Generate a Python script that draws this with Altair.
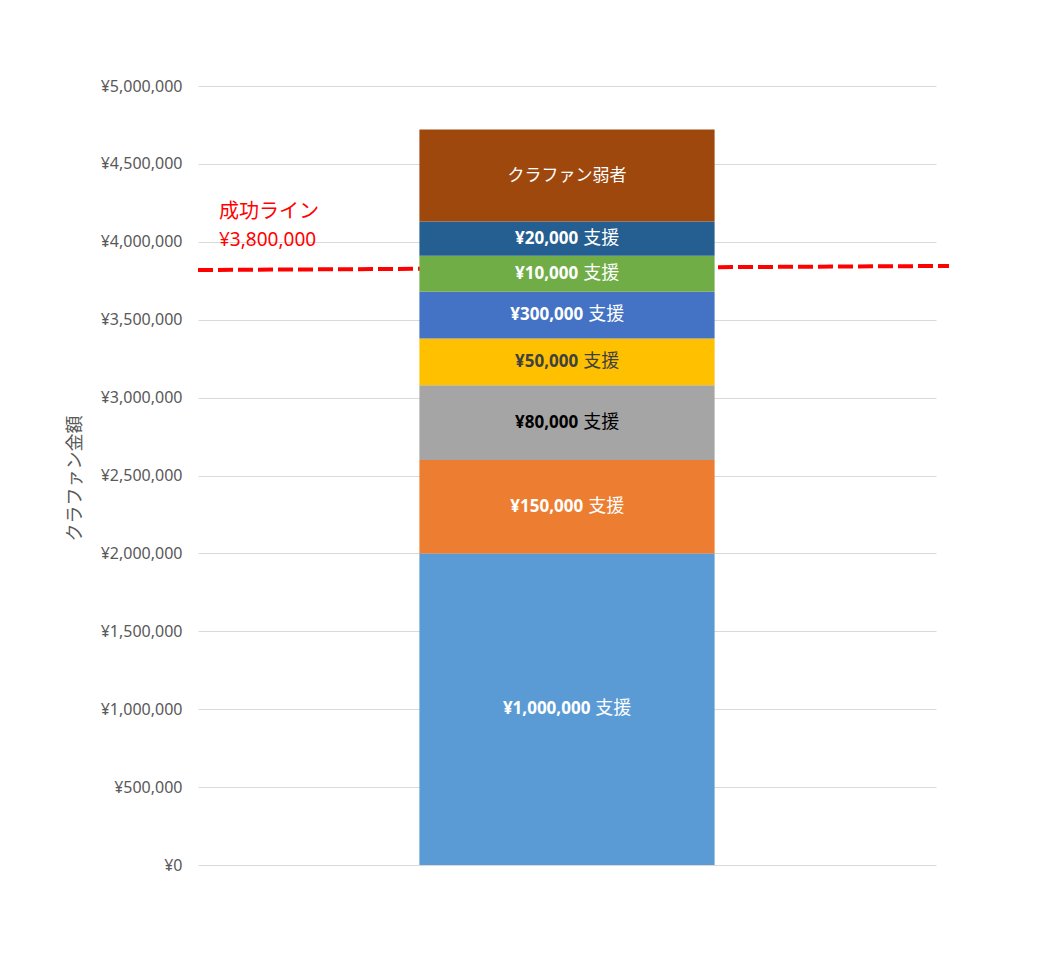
import altair as alt
import pandas as pd

# ---- data ----
segment_names = ["¥1,000,000", "¥150,000", "¥80,000", "¥50,000", "¥300,000", "¥10,000", "¥20,000", "クラファン弱者"]
segment_suffix = ["支援", "支援", "支援", "支援", "支援", "支援", "支援", ""]
segment_values = [2000000, 600000, 480000, 300000, 300000, 230000, 220000, 590000]
segment_colors = ["#5B9BD5", "#ED7D31", "#A5A5A5", "#FFC000", "#4472C4", "#70AD47", "#255E91", "#9E480E"]
label_colors = ["#FFFFFF", "#FFFFFF", "#000000", "#404040", "#FFFFFF", "#FFFFFF", "#FFFFFF", "#FFFFFF"]

line_left_value = 3819000
line_right_value = 3845000
annotation_lines = ["成功ライン", "¥3,800,000"]
y_ticks = list(range(0, 5000001, 500000))

JP = "Noto Sans CJK JP"
LAT = "Noto Sans"
NUM_FS = 17
SUP_FS = 18
GAP = 5


def est_width(s, fs):
    w = 0.0
    for ch in s:
        if ch == ",":
            w += 0.26 * fs
        else:
            w += 0.58 * fs
    return w


rows = []
base = 0
for i, (n, suf, v, c, tc) in enumerate(zip(segment_names, segment_suffix, segment_values, segment_colors, label_colors)):
    rows.append(dict(g="A", idx=i, name=n, suffix=suf, y0=base, y1=base + v, mid=base + v / 2,
                     color=c, tcolor=tc))
    base += v
df = pd.DataFrame(rows)

xscale = alt.Scale(paddingInner=0, paddingOuter=0.75)
xenc = alt.X("g:N", axis=None, scale=xscale)
yscale = alt.Scale(domain=[0, 5000000], nice=False)

line_df = pd.DataFrame({"a": [line_left_value], "b": [line_right_value]})
rule = alt.Chart(line_df).mark_rule(color="#FF0000", strokeWidth=4, strokeDash=[15, 5], strokeCap="butt").encode(
    x=alt.value(0), x2=alt.value(751),
    y=alt.Y("a:Q", scale=yscale), y2="b:Q",
)

bars = alt.Chart(df).mark_bar().encode(
    x=xenc,
    y=alt.Y("y0:Q", scale=yscale,
            axis=alt.Axis(values=y_ticks, labelExpr='"¥" + format(datum.value, ",")',
                          title="クラファン金額", titleFont=JP, titleFontSize=18, titleFontWeight="normal",
                          titleColor="#595959", titleAngle=270, titleX=-123, titleY=392,
                          titleAlign="center", titleBaseline="middle",
                          labelFont=LAT, labelFontSize=16, labelColor="#595959", labelPadding=16,
                          domain=False, ticks=False, grid=True, gridColor="#D9D9D9", gridWidth=1)),
    y2="y1:Q",
    color=alt.Color("color:N", scale=None),
)

layers = [rule, bars]
for i, (n, suf) in enumerate(zip(segment_names, segment_suffix)):
    sel = alt.Chart(df).transform_filter(f"datum.idx == {i}")
    if suf:
        wn = est_width(n, NUM_FS)
        ws = 2 * SUP_FS
        off = (wn - GAP - ws) / 2
        layers.append(sel.mark_text(align="right", baseline="middle", font=LAT, fontSize=NUM_FS,
                                    fontWeight="bold", dx=off).encode(
            x=xenc, y=alt.Y("mid:Q", scale=yscale), text="name:N",
            color=alt.Color("tcolor:N", scale=None)))
        layers.append(sel.mark_text(align="left", baseline="middle", font=JP, fontSize=SUP_FS,
                                    dx=off + GAP).encode(
            x=xenc, y=alt.Y("mid:Q", scale=yscale), text="suffix:N",
            color=alt.Color("tcolor:N", scale=None)))
    else:
        layers.append(sel.mark_text(align="center", baseline="middle", font=JP, fontSize=17).encode(
            x=xenc, y=alt.Y("mid:Q", scale=yscale), text="name:N",
            color=alt.Color("tcolor:N", scale=None)))

ann_df = pd.DataFrame({"t": annotation_lines, "k": [0, 1]})
layers.append(alt.Chart(ann_df).transform_filter("datum.k == 0").mark_text(
    align="left", baseline="alphabetic", font=JP, fontSize=20, color="#FF0000"
).encode(x=alt.value(21), y=alt.value(132), text="t:N"))
layers.append(alt.Chart(ann_df).transform_filter("datum.k == 1").mark_text(
    align="left", baseline="alphabetic", font=LAT, fontSize=19, color="#FF0000"
).encode(x=alt.value(21), y=alt.value(160), text="t:N"))

chart = alt.layer(*layers).properties(
    width=738, height=779,
    padding={"left": 190, "top": 78, "right": 100, "bottom": 90},
    autosize=alt.AutoSizeParams(type="none"),
).configure(background="white", view=alt.ViewConfig(stroke=None))

chart.save("out.html", embed_options={"renderer": "svg", "actions": False})
